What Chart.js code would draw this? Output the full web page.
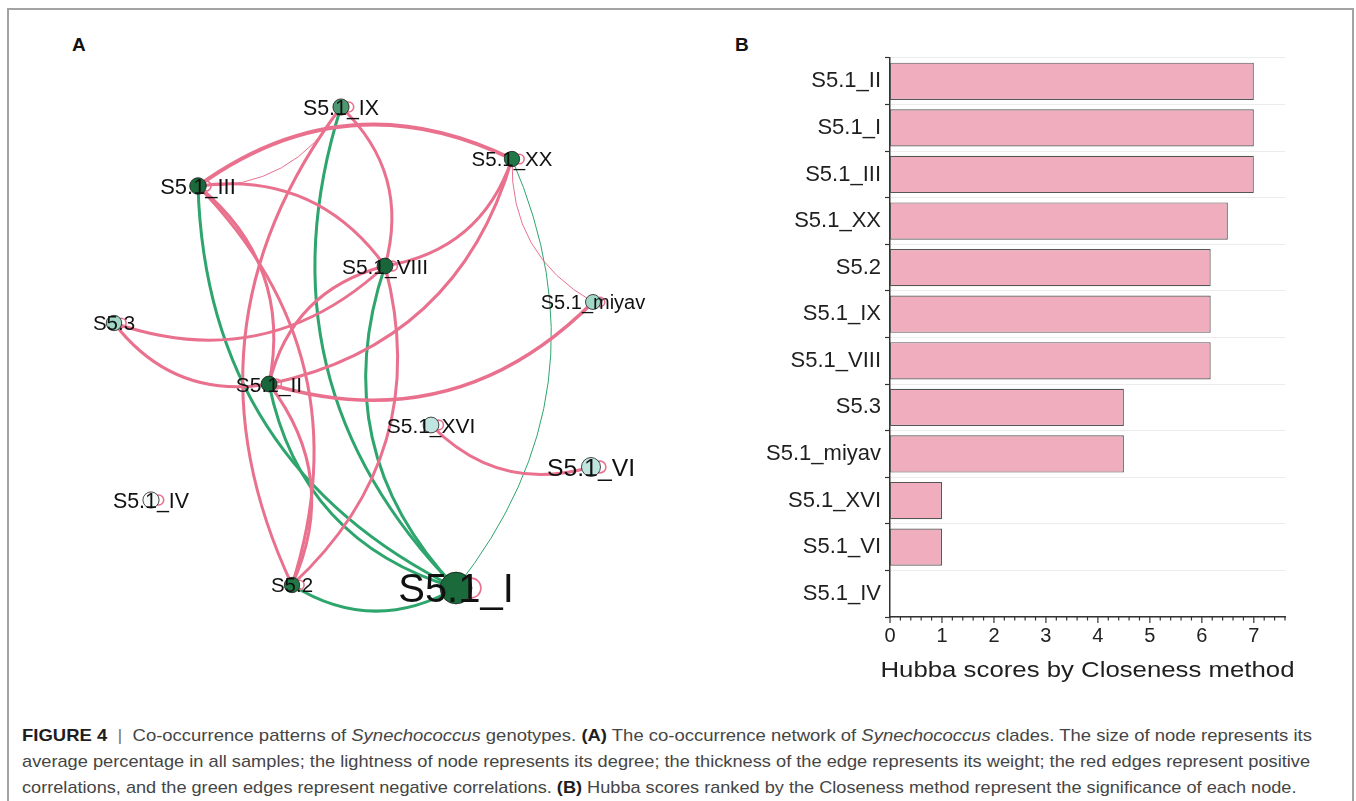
<!DOCTYPE html>
<html>
<head>
<meta charset="utf-8">
<script src="https://cdn.jsdelivr.net/npm/chart.js@4.4.0/dist/chart.umd.min.js"></script>
<style>
  html, body { margin: 0; padding: 0; background: #fff; }
  body { width: 1356px; height: 801px; position: relative; overflow: hidden;
         font-family: 'Liberation Sans', Arial, Helvetica, sans-serif; }
  #frame { position: absolute; left: 7px; top: 8px; width: 1343px; height: 900px;
           border: 2px solid #a3a3a3; box-sizing: content-box; }
  .panel { position: absolute; font-weight: bold; font-size: 19px; line-height: 19px; color: #111; }
  #netBox { position: absolute; left: 40px; top: 60px; width: 640px; height: 600px; }
  #barBox { position: absolute; left: 720px; top: 30px; width: 620px; height: 670px; }
  .cap { position: absolute; left: 22px; white-space: nowrap; font-size: 17px; line-height: 20px;
         color: #454545; transform-origin: 0 50%; }
  .cap b { color: #1e1e1e; }
  .cap .sep { color: #777; font-weight: normal; }
</style>
</head>
<body>
<div id="frame"></div>
<div class="panel" style="left:72px;top:35px;">A</div>
<div class="panel" style="left:735px;top:35px;">B</div>
<div id="netBox"><canvas id="net"></canvas></div>
<div id="barBox"><canvas id="bar"></canvas></div>

<div class="cap" data-w="1290" style="top:726px"><b>FIGURE 4</b>&nbsp;&nbsp;<span class="sep">|</span>&nbsp;&nbsp;Co-occurrence patterns of <i>Synechococcus</i> genotypes. <b>(A)</b> The co-occurrence network of <i>Synechococcus</i> clades. The size of node represents its</div>
<div class="cap" data-w="1288" style="top:752px">average percentage in all samples; the lightness of node represents its degree; the thickness of the edge represents its weight; the red edges represent positive</div>
<div class="cap" data-w="1275" style="top:778px">correlations, and the green edges represent negative correlations. <b>(B)</b> Hubba scores ranked by the Closeness method represent the significance of each node.</div>

<script>
// ---------- Network (panel A) ----------
const nodeNames = ['S5.1_IX', 'S5.1_XX', 'S5.1_III', 'S5.1_VIII', 'S5.1_miyav', 'S5.3',
                   'S5.1_II', 'S5.1_XVI', 'S5.1_VI', 'S5.1_IV', 'S5.2', 'S5.1_I'];
// layout coordinates of the nodes
const nodeX = [301, 472, 158, 345, 553, 74, 229, 391, 551, 111, 252, 416];
const nodeY = [47, 99, 126, 206, 242, 263, 324, 365, 407, 440, 525, 528];
// average percentage in all samples
const nodeAbundance = [1.5, 0.5, 2, 1, 0, 0.5, 1, 1, 5, 1.5, 0.5, 21];

// edges: source, target, weight, sign (+1 positive, -1 negative)
const edgeSource = ['S5.1_III', 'S5.1_IX', 'S5.1_III', 'S5.1_III', 'S5.1_III', 'S5.2',
                    'S5.1_IX', 'S5.1_XX', 'S5.1_XX', 'S5.1_miyav', 'S5.1_VIII', 'S5.1_II',
                    'S5.1_VIII', 'S5.1_miyav', 'S5.1_II', 'S5.1_VI', 'S5.1_II',
                    'S5.1_I', 'S5.1_I', 'S5.1_I', 'S5.1_I', 'S5.1_I', 'S5.1_XX'];
const edgeTarget = ['S5.1_XX', 'S5.1_III', 'S5.1_VIII', 'S5.1_II', 'S5.2', 'S5.1_IX',
                    'S5.1_VIII', 'S5.1_VIII', 'S5.1_II', 'S5.1_XX', 'S5.3', 'S5.1_VIII',
                    'S5.2', 'S5.1_II', 'S5.3', 'S5.1_XVI', 'S5.2',
                    'S5.1_III', 'S5.1_IX', 'S5.1_VIII', 'S5.1_II', 'S5.2', 'S5.1_I'];
const edgeWeight = [4, 1, 3, 3, 3, 3,
                    3, 3, 3, 1, 3, 3,
                    3, 3.5, 3, 3, 3,
                    3, 3, 3, 3, 3, 1];
const edgeSign = [1, 1, 1, 1, 1, 1,
                  1, 1, 1, 1, 1, 1,
                  1, 1, 1, 1, 1,
                  -1, -1, -1, -1, -1, -1];

// ---------- Bar chart (panel B) ----------
const barLabels = ['S5.1_II', 'S5.1_I', 'S5.1_III', 'S5.1_XX', 'S5.2', 'S5.1_IX', 'S5.1_VIII',
                   'S5.3', 'S5.1_miyav', 'S5.1_XVI', 'S5.1_VI', 'S5.1_IV'];
const barScores = [7, 7, 7, 6.5, 6.17, 6.17, 6.17, 4.5, 4.5, 1, 1, 0];
const scoreAxisMax = 7.6;
const scoreTickStep = 0.2;
const scoreTitle = 'Hubba scores by Closeness method';

const FONT = "'Liberation Sans', Arial, Helvetica, sans-serif";
const PINK = '#e9718e';
const GREEN = '#2ea56d';
const BEND = 0.3;

const nodeRadius = a => 7.5 + 0.4 * a;
const labelSize = a => 20 + 0.95 * a;

// node degree from the edge list
const nodeDegree = nodeNames.map(n =>
  edgeSource.filter(s => s === n).length + edgeTarget.filter(t => t === n).length);

function degreeColor(d) {
  const stops = [[0, [243, 250, 248]], [1, [192, 228, 223]], [2, [160, 215, 199]],
                 [5, [32, 120, 70]], [6, [26, 106, 60]], [8, [21, 97, 55]]];
  if (d >= stops[stops.length - 1][0]) return 'rgb(' + stops[stops.length - 1][1].join(',') + ')';
  for (let i = 0; i < stops.length - 1; i++) {
    const [d0, c0] = stops[i], [d1, c1] = stops[i + 1];
    if (d >= d0 && d <= d1) {
      const t = (d - d0) / (d1 - d0);
      return 'rgb(' + c0.map((v, k) => Math.round(v + (c1[k] - v) * t)).join(',') + ')';
    }
  }
  return 'rgb(243,250,248)';
}

const networkPlugin = {
  id: 'network',
  beforeDatasetsDraw(chart) {
    const meta = chart.getDatasetMeta(0);
    const ctx = chart.ctx;
    const pt = name => meta.data[nodeNames.indexOf(name)];
    ctx.save();
    ctx.lineCap = 'round';
    // negative edges first, positive on top
    const order = edgeSource.map((_, i) => i).sort((a, b) => edgeSign[a] - edgeSign[b]);
    order.forEach(i => {
      const a = pt(edgeSource[i]), b = pt(edgeTarget[i]);
      const dx = b.x - a.x, dy = b.y - a.y;
      const cx = (a.x + b.x) / 2 + dy * BEND;
      const cy = (a.y + b.y) / 2 - dx * BEND;
      ctx.strokeStyle = edgeSign[i] > 0 ? PINK : GREEN;
      ctx.lineWidth = edgeWeight[i];
      ctx.beginPath();
      ctx.moveTo(a.x, a.y);
      ctx.quadraticCurveTo(cx, cy, b.x, b.y);
      ctx.stroke();
    });
    // self loops
    ctx.strokeStyle = PINK;
    ctx.lineWidth = 1.6;
    meta.data.forEach((p, i) => {
      const r = nodeRadius(nodeAbundance[i]);
      ctx.beginPath();
      ctx.arc(p.x + 0.95 * r, p.y, 0.62 * r, 0, Math.PI * 2);
      ctx.stroke();
    });
    ctx.restore();
  },
  afterDatasetsDraw(chart) {
    const meta = chart.getDatasetMeta(0);
    const ctx = chart.ctx;
    ctx.save();
    ctx.fillStyle = '#111';
    ctx.textAlign = 'center';
    ctx.textBaseline = 'alphabetic';
    meta.data.forEach((p, i) => {
      const s = labelSize(nodeAbundance[i]);
      ctx.font = s + 'px ' + FONT;
      ctx.fillText(nodeNames[i], p.x, p.y + 0.36 * s);
    });
    ctx.restore();
  }
};

new Chart(document.getElementById('net'), {
  type: 'scatter',
  data: {
    datasets: [{
      data: nodeX.map((x, i) => ({ x: x, y: nodeY[i] })),
      pointRadius: nodeAbundance.map(nodeRadius),
      pointBackgroundColor: nodeDegree.map(degreeColor),
      pointBorderColor: '#1d1d1d',
      pointBorderWidth: 0.8,
      clip: false
    }]
  },
  options: {
    responsive: true, maintainAspectRatio: false, animation: false, events: [],
    layout: { padding: 0, autoPadding: false },
    plugins: { legend: { display: false }, tooltip: { enabled: false } },
    scales: {
      x: { type: 'linear', display: false, min: 0, max: 640 },
      y: { type: 'linear', display: false, min: 0, max: 600, reverse: true }
    }
  },
  plugins: [networkPlugin]
});

const isWhole = v => Math.abs(v - Math.round(v)) < 1e-6;

const scoreAxisPlugin = {
  id: 'scoreAxis',
  afterDraw(chart) {
    const xs = chart.scales.x, ctx = chart.ctx, area = chart.chartArea;
    ctx.save();
    ctx.strokeStyle = '#333';
    ctx.lineWidth = 1.2;
    xs.ticks.forEach(t => {
      const px = xs.getPixelForValue(t.value);
      ctx.beginPath();
      ctx.moveTo(px, xs.top);
      ctx.lineTo(px, xs.top + (isWhole(t.value) ? 6 : 3.5));
      ctx.stroke();
    });
    // axis title, set wide
    ctx.font = '21.5px ' + FONT;
    ctx.fillStyle = '#1f1f1f';
    ctx.textAlign = 'center';
    ctx.textBaseline = 'alphabetic';
    const w = ctx.measureText(scoreTitle).width;
    ctx.translate((area.left + area.right) / 2, 647);
    ctx.scale(414 / w, 1);
    ctx.fillText(scoreTitle, 0, 0);
    ctx.restore();
  }
};

new Chart(document.getElementById('bar'), {
  type: 'bar',
  data: {
    labels: barLabels,
    datasets: [{
      data: barScores,
      backgroundColor: '#efadbd',
      borderColor: '#555',
      borderWidth: 1.2,
      borderSkipped: false,
      barPercentage: 0.8,
      categoryPercentage: 1.0
    }]
  },
  options: {
    indexAxis: 'y',
    responsive: true, maintainAspectRatio: false, animation: false, events: [],
    layout: { padding: { top: 28, right: 55, left: 0, bottom: 0 } },
    plugins: { legend: { display: false }, tooltip: { enabled: false } },
    scales: {
      x: {
        type: 'linear', min: 0, max: scoreAxisMax,
        afterFit(s) { s.height = 83; },
        grid: { display: false, drawTicks: false },
        border: { display: true, color: '#333', width: 1.5 },
        ticks: {
          stepSize: scoreTickStep, autoSkip: false, maxRotation: 0, padding: 7,
          color: '#222', font: { family: FONT, size: 20 },
          callback: v => isWhole(v) ? String(Math.round(v)) : ''
        }
      },
      y: {
        afterFit(s) { s.width = 170; },
        grid: { display: true, offset: true, color: '#ececec', lineWidth: 1,
                tickLength: 5, tickColor: '#333', tickWidth: 1.2 },
        border: { display: true, color: '#333', width: 1.5 },
        ticks: { padding: 4, color: '#1f1f1f', font: { family: FONT, size: 22 } }
      }
    }
  },
  plugins: [scoreAxisPlugin]
});

// caption lines are set condensed to their column width
document.querySelectorAll('.cap').forEach(el => {
  const target = parseFloat(el.dataset.w);
  const w = el.offsetWidth;
  if (w > 0) el.style.transform = 'scaleX(' + (target / w).toFixed(4) + ')';
});
</script>
</body>
</html>
